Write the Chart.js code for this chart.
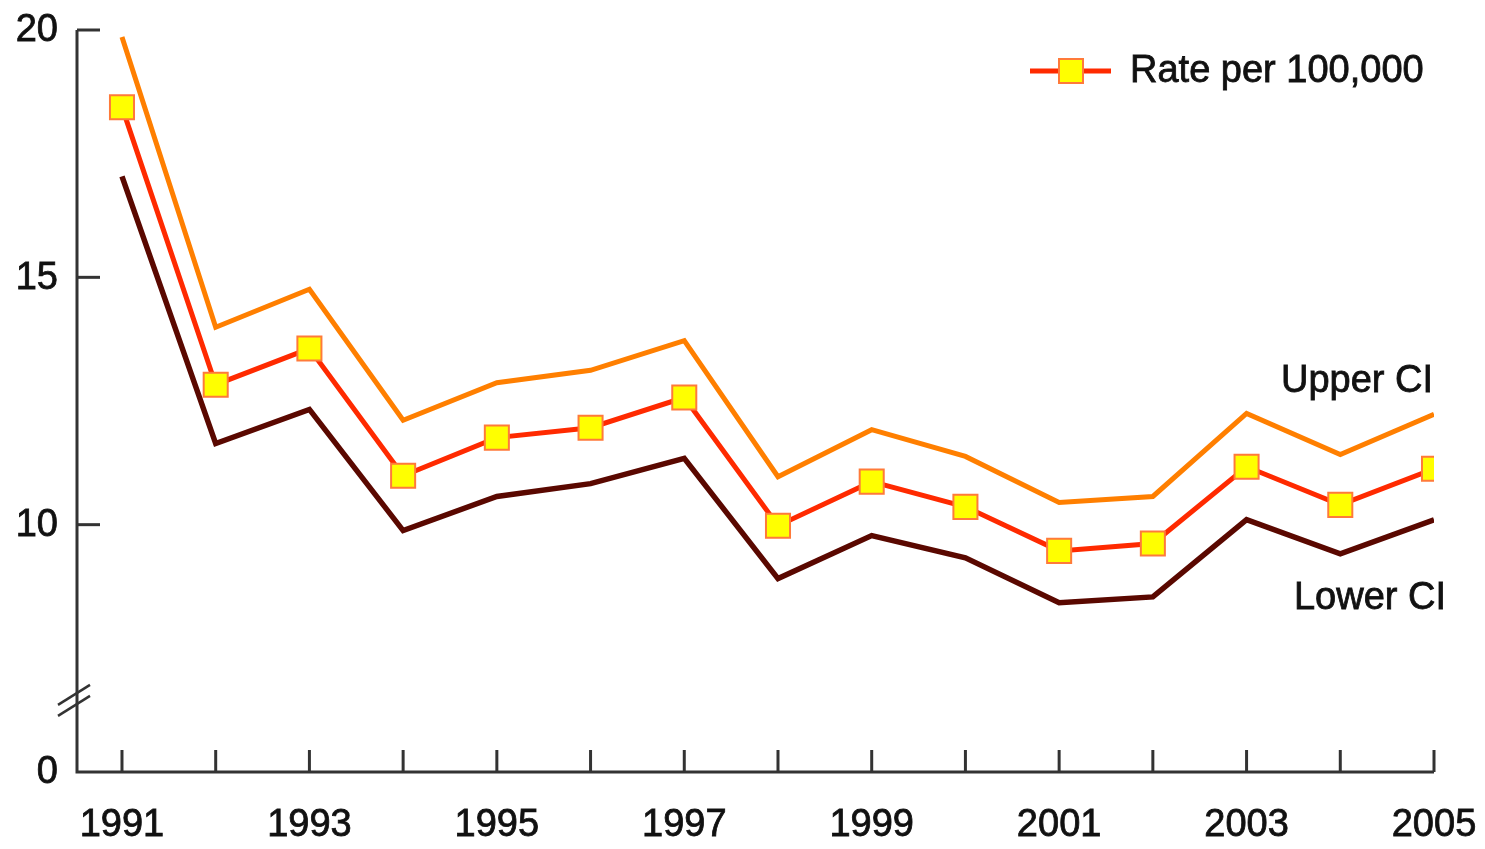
<!DOCTYPE html>
<html>
<head>
<meta charset="utf-8">
<script src="https://cdn.jsdelivr.net/npm/chart.js@4/dist/chart.umd.min.js"></script>
<style>
  html, body { margin: 0; padding: 0; background: #fff; }
  #wrap { width: 1485px; height: 849px; }
</style>
</head>
<body>
<div id="wrap"><canvas id="rateChart" width="1485" height="849"></canvas></div>
<script>
// values
const years = [1991, 1992, 1993, 1994, 1995, 1996, 1997, 1998, 1999, 2000, 2001, 2002, 2003, 2004, 2005];
const rate  = [18.44, 12.83, 13.56, 10.99, 11.76, 11.96, 12.57, 9.98, 10.87, 10.36, 9.47, 9.62, 11.17, 10.40, 11.13];
const upper = [19.86, 13.99, 14.76, 12.11, 12.87, 13.12, 13.72, 10.97, 11.92, 11.38, 10.45, 10.57, 12.25, 11.42, 12.23];
const lower = [17.04, 11.64, 12.33, 9.88, 10.57, 10.83, 11.34, 8.91, 9.78, 9.33, 8.42, 8.54, 10.10, 9.41, 10.10];
const yearLabels = [1991, 1993, 1995, 1997, 1999, 2001, 2003, 2005];
// axis is broken: the bottom of the plot (value 5) is labelled 0
const yTicks = [5, 10, 15, 20];
const yTickText = ['0', '10', '15', '20'];
const legendText = 'Rate per 100,000';

const FONT = '38px "Liberation Sans", Arial, Helvetica, sans-serif';

function toPoints(vals) {
  return years.map((yr, i) => ({ x: yr, y: vals[i] }));
}

// text a little heavier, like the original
function label(ctx, txt, x, y) {
  ctx.fillText(txt, x, y);
  ctx.strokeText(txt, x, y);
}

// draws the axes, ticks, axis break, labels and legend
const decorations = {
  id: 'decorations',
  afterDatasetsDraw(chart) {
    const ctx = chart.ctx;
    const xs = chart.scales.x;
    const ys = chart.scales.y;
    const left = chart.chartArea.left;
    const right = xs.getPixelForValue(2005);
    const bottom = ys.getPixelForValue(5);
    const top = ys.getPixelForValue(20);

    ctx.save();
    ctx.strokeStyle = '#333';
    ctx.lineWidth = 3;
    ctx.lineCap = 'butt';

    // axis lines
    ctx.beginPath();
    ctx.moveTo(left, top);
    ctx.lineTo(left, bottom);
    ctx.lineTo(right, bottom);
    ctx.stroke();

    // y ticks pointing inwards
    yTicks.slice(1).forEach(v => {
      const py = ys.getPixelForValue(v);
      ctx.beginPath();
      ctx.moveTo(left, py);
      ctx.lineTo(left + 23, py);
      ctx.stroke();
    });

    // x ticks pointing up
    years.forEach(yr => {
      const px = xs.getPixelForValue(yr);
      ctx.beginPath();
      ctx.moveTo(px, bottom);
      ctx.lineTo(px, bottom - 22);
      ctx.stroke();
    });

    // axis break marks
    const by = ys.getPixelForValue(6.6);
    ctx.lineWidth = 2.5;
    [0, 11].forEach(off => {
      ctx.beginPath();
      ctx.moveTo(left - 19, by + 12 + off);
      ctx.lineTo(left + 13, by - 8 + off);
      ctx.stroke();
    });

    // tick labels
    ctx.fillStyle = '#111';
    ctx.strokeStyle = '#111';
    ctx.lineWidth = 0.8;
    ctx.font = FONT;
    ctx.textAlign = 'right';
    ctx.textBaseline = 'middle';
    yTicks.forEach((v, i) => {
      label(ctx, yTickText[i], 58, ys.getPixelForValue(v) + 1);
    });
    ctx.textAlign = 'center';
    yearLabels.forEach(yr => {
      label(ctx, String(yr), xs.getPixelForValue(yr), bottom + 54);
    });

    // line labels
    const last = years.length - 1;
    ctx.textAlign = 'right';
    label(ctx, 'Upper CI', right - 1, ys.getPixelForValue(upper[last]) - 33);
    label(ctx, 'Lower CI', right + 12, ys.getPixelForValue(lower[last]) + 79);

    // legend
    const ly = 71;
    ctx.strokeStyle = '#ff2a00';
    ctx.lineWidth = 5;
    ctx.beginPath();
    ctx.moveTo(1030, ly);
    ctx.lineTo(1111, ly);
    ctx.stroke();
    ctx.fillStyle = '#ffff00';
    ctx.strokeStyle = '#ff7a3a';
    ctx.lineWidth = 2;
    ctx.fillRect(1059, ly - 12, 24, 24);
    ctx.strokeRect(1059, ly - 12, 24, 24);
    ctx.fillStyle = '#111';
    ctx.strokeStyle = '#111';
    ctx.lineWidth = 0.8;
    ctx.textAlign = 'left';
    label(ctx, legendText, 1130, ly + 1);
    ctx.restore();
  }
};

new Chart(document.getElementById('rateChart'), {
  type: 'line',
  data: {
    datasets: [
      {
        label: 'Upper CI',
        data: toPoints(upper),
        borderColor: '#ff7f00',
        borderWidth: 5,
        pointRadius: 0,
        tension: 0
      },
      {
        label: 'Lower CI',
        data: toPoints(lower),
        borderColor: '#5a0800',
        borderWidth: 5.5,
        pointRadius: 0,
        tension: 0
      },
      {
        label: legendText,
        data: toPoints(rate),
        borderColor: '#ff2a00',
        borderWidth: 5,
        pointStyle: 'rect',
        pointRadius: 17,
        pointBackgroundColor: '#ffff00',
        pointBorderColor: '#ff7a3a',
        pointBorderWidth: 2,
        tension: 0
      }
    ]
  },
  options: {
    responsive: false,
    animation: false,
    layout: { padding: { left: 77, top: 30, right: 51, bottom: 77 } },
    plugins: { legend: { display: false }, tooltip: { enabled: false } },
    scales: {
      x: { type: 'linear', min: 1990.52, max: 2005, display: false },
      y: { type: 'linear', min: 5, max: 20, display: false }
    }
  },
  plugins: [decorations]
});
</script>
</body>
</html>
